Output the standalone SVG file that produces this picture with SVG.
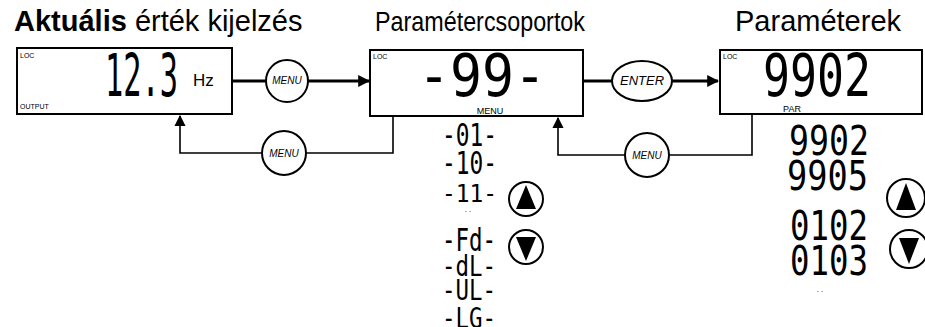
<svg xmlns="http://www.w3.org/2000/svg" width="925" height="327" viewBox="0 0 925 327">
<defs>
<style>
.title{font-family:"Liberation Sans",Arial,sans-serif;fill:#000}
.seg{font-family:"DejaVu Sans Mono","Liberation Mono",monospace;fill:#000}
.tiny{font-family:"Liberation Sans",Arial,sans-serif;fill:#000}
.btn{font-family:"Liberation Sans",Arial,sans-serif;font-style:italic;fill:#000}
.box{fill:#fff;stroke:#000;stroke-width:2}
.circ{fill:#fff;stroke:#000;stroke-width:2}
.main{fill:none;stroke:#000;stroke-width:3}
.ret{fill:none;stroke:#000;stroke-width:1.6}
</style>
<marker id="ah" viewBox="0 0 10 10" refX="9" refY="5" markerWidth="4" markerHeight="4" orient="auto" markerUnits="strokeWidth"><path d="M0,0 L10,5 L0,10 z" fill="#000"/></marker>
<marker id="ah2" viewBox="0 0 10 10" refX="9" refY="5" markerWidth="7" markerHeight="7" orient="auto" markerUnits="strokeWidth"><path d="M0,0 L10,5 L0,10 z" fill="#000"/></marker>
</defs>
<rect width="925" height="327" fill="#fff"/>

<g id="titles">
<text class="title" x="14" y="31" font-size="29"><tspan font-weight="bold">Aktuális</tspan> érték kijelzés</text>
<text class="title" x="375" y="31" font-size="27.5" textLength="210" lengthAdjust="spacingAndGlyphs">Paramétercsoportok</text>
<text class="title" x="735" y="31" font-size="29">Paraméterek</text>
</g>

<g id="connectors">
<path class="main" d="M232,81 H266"/>
<path class="main" d="M308,81 H369" marker-end="url(#ah)"/>
<path class="ret" d="M393,116 V153 H306"/>
<path class="ret" d="M262,153 H180 V116" marker-end="url(#ah2)"/>
<path class="main" d="M583,81 H612"/>
<path class="main" d="M672,81 H718" marker-end="url(#ah)"/>
<path class="ret" d="M752,114 V155 H669"/>
<path class="ret" d="M625,155 H558 V118" marker-end="url(#ah2)"/>
</g>

<g id="display-actual">
<rect class="box" x="17" y="48" width="215" height="66"/>
<text class="tiny" x="20" y="58" font-size="7">LOC</text>
<text class="tiny" x="20" y="109" font-size="7">OUTPUT</text>
<text class="seg" x="105" y="96" font-size="58" textLength="73" lengthAdjust="spacingAndGlyphs">12.3</text>
<text class="title" x="193" y="86" font-size="17">Hz</text>
</g>

<g id="btn-menu1">
<circle class="circ" cx="287" cy="81" r="21"/>
<text class="btn" x="287" y="84" text-anchor="middle" font-size="10">MENU</text>
</g>

<g id="btn-menu2">
<circle class="circ" cx="284" cy="153" r="22"/>
<text class="btn" x="284" y="157" text-anchor="middle" font-size="10">MENU</text>
</g>

<g id="display-groups">
<rect class="box" x="370" y="50" width="213" height="66"/>
<text class="tiny" x="373" y="59" font-size="7">LOC</text>
<text class="seg" x="418" y="96" font-size="58" textLength="128" lengthAdjust="spacingAndGlyphs">-99-</text>
<text class="tiny" x="490" y="114" text-anchor="middle" font-size="9">MENU</text>
</g>

<g id="btn-enter">
<ellipse class="circ" cx="642" cy="81" rx="30" ry="20"/>
<text class="btn" x="642" y="85" text-anchor="middle" font-size="13">ENTER</text>
</g>

<g id="btn-menu3">
<circle class="circ" cx="647" cy="155" r="22"/>
<text class="btn" x="647" y="159" text-anchor="middle" font-size="10">MENU</text>
</g>

<g id="display-params">
<rect class="box" x="720" y="50" width="202" height="64"/>
<text class="tiny" x="723" y="59" font-size="7">LOC</text>
<text class="seg" x="763" y="96" font-size="58" textLength="108" lengthAdjust="spacingAndGlyphs">9902</text>
<text class="tiny" x="792" y="112" text-anchor="middle" font-size="9">PAR</text>
</g>

<g id="group-list">
<text class="seg" x="442" y="146" font-size="32" textLength="55" lengthAdjust="spacingAndGlyphs">-01-</text>
<text class="seg" x="442" y="174" font-size="32" textLength="55" lengthAdjust="spacingAndGlyphs">-10-</text>
<text class="seg" x="442" y="202" font-size="25" textLength="55" lengthAdjust="spacingAndGlyphs">-11-</text>
<text class="tiny" x="468" y="212" text-anchor="middle" font-size="8">. .</text>
<text class="seg" x="442" y="251" font-size="32" textLength="54" lengthAdjust="spacingAndGlyphs">-Fd-</text>
<text class="seg" x="442" y="276" font-size="28" textLength="54" lengthAdjust="spacingAndGlyphs">-dL-</text>
<text class="seg" x="442" y="300" font-size="28" textLength="54" lengthAdjust="spacingAndGlyphs">-UL-</text>
<text class="seg" x="442" y="328" font-size="28" textLength="54" lengthAdjust="spacingAndGlyphs">-LG-</text>
</g>

<g id="btn-up1">
<circle class="circ" cx="526" cy="199" r="17"/>
<path d="M526,185 L536,209 H516 z" fill="#000"/>
</g>
<g id="btn-down1">
<circle class="circ" cx="526" cy="247" r="17"/>
<path d="M516,237 H536 L526,261 z" fill="#000"/>
</g>

<g id="param-list">
<text class="seg" x="789" y="155" font-size="40" textLength="80" lengthAdjust="spacingAndGlyphs">9902</text>
<text class="seg" x="787" y="190" font-size="40" textLength="81" lengthAdjust="spacingAndGlyphs">9905</text>
<text class="seg" x="790" y="240" font-size="40" textLength="78" lengthAdjust="spacingAndGlyphs">0102</text>
<text class="seg" x="790" y="275" font-size="40" textLength="78" lengthAdjust="spacingAndGlyphs">0103</text>
<text class="tiny" x="820" y="292" text-anchor="middle" font-size="8">. .</text>
</g>

<g id="btn-up2">
<circle class="circ" cx="906" cy="198" r="19"/>
<path d="M906,183 L916,210 H896 z" fill="#000"/>
</g>
<g id="btn-down2">
<circle class="circ" cx="909" cy="249" r="19"/>
<path d="M899,238 H919 L909,264 z" fill="#000"/>
</g>
</svg>
